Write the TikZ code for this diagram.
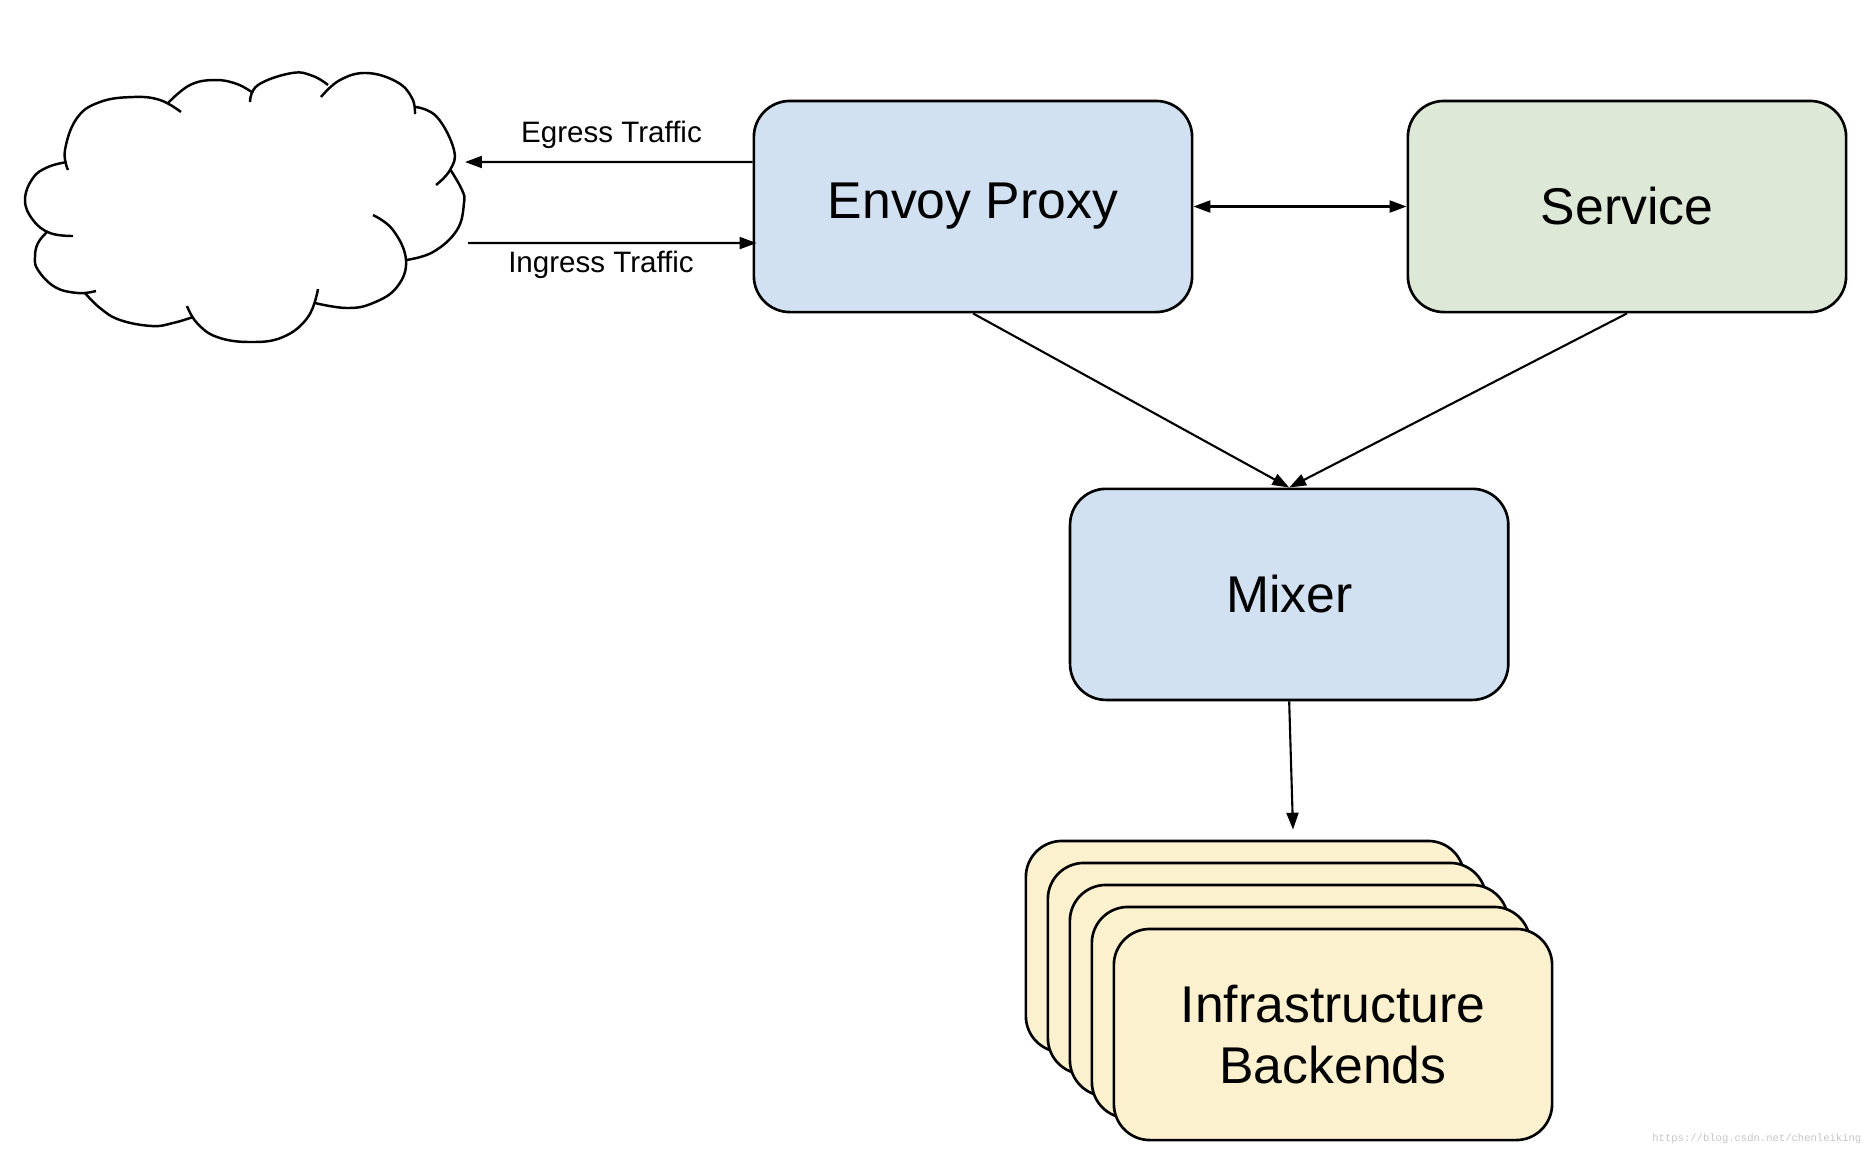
\documentclass[tikz,border=0pt]{standalone}
\usepackage{fontspec}
\setmainfont{Liberation Sans}
\newfontfamily\markfont{Liberation Mono}
\usetikzlibrary{calc,arrows.meta,positioning}
\definecolor{LightBlue}{HTML}{D2E1F1}
\definecolor{LightGreen}{HTML}{DDE8D6}
\definecolor{LightYellow}{HTML}{FCF1CF}
\definecolor{MarkGray}{HTML}{C4C4C4}

\begin{document}
\begin{tikzpicture}[
    x=0.01cm, y=-0.01cm,
    box/.style={draw=black, line width=0.75pt, rounded corners=0.36cm,
        minimum width=4.38cm, minimum height=2.11cm, inner sep=0pt,
        align=center, text=black, font=\fontsize{14.7}{17.2}\selectfont},
    link/.style={-{Triangle[length=4.8pt, width=3.4pt]}, line width=0.6pt},
    tag/.style={font=\fontsize{8.4}{10}\selectfont, inner sep=0pt},
    puff/.style={smooth, tension=0.7, line width=0.7pt},
]
\useasboundingbox (0,0) rectangle (1862,1150);

\node[box, fill=LightBlue] (envoy) at (973,206.5) {Envoy Proxy};
\node[box, fill=LightGreen, right=2.13cm of envoy] (service) {Service};
\node[box, fill=LightBlue, below=1.74cm of envoy, xshift=3.16cm] (mixer) {Mixer};

% stacked backends, back to front
\foreach \i/\off in {1/0, 2/22, 3/44, 4/66}
    \node[box, fill=LightYellow] (backend\i) at (1245+\off,946.5+\off) {};
\node[box, fill=LightYellow, at={(1333,1034.5)}] (backend5) {Infrastructure\\Backends};

% cloud
\draw[puff] plot coordinates {(68,170) (65,150) (77,118) (100,102) (133,97) (160,100) (181,112)};
\draw[puff] plot coordinates {(168,103) (190,85) (215,80) (237,84) (253,93)};
\draw[puff] plot coordinates {(250,102) (258,85) (292,73) (313,76) (328,85)};
\draw[puff] plot coordinates {(321,97) (340,80) (367,73) (397,82) (412,98) (415,114)};
\draw[puff] plot coordinates {(416,107) (437,117) (454,150) (450,170) (436,185)};
\draw[puff] plot coordinates {(450,169) (462,190) (464,203) (457,230) (433,252) (406,260)};
\draw[puff] plot coordinates {(373,215) (393,230) (406,260) (397,287) (373,303) (347,308) (315,303)};
\draw[puff] plot coordinates {(318,289) (308,317) (283,337) (250,342) (217,337) (197,323) (187,306)};
\draw[puff] plot coordinates {(193,317) (173,323) (152,326) (120,320) (100,308) (85,293)};
\draw[puff] plot coordinates {(96,291) (78,293) (55,287) (38,270) (35,257) (38,243) (47,232)};
\draw[puff] plot coordinates {(73,236) (50,233) (33,220) (25,200) (33,178) (48,167) (67,162)};

\coordinate (egress) at (465,162);
\coordinate (ingress) at (468,243);

% traffic
\draw[link] ([yshift=4.45mm]envoy.west) -- (egress);
\draw[link] (ingress) -- ([xshift=0.4mm, yshift=-3.65mm]envoy.west);
\node[tag] (egresstag) at (611.5,135) {Egress Traffic};
\node[tag] (ingresstag) at (601,265) {Ingress Traffic};

\draw[link, {Triangle[length=4.8pt, width=3.4pt]}-{Triangle[length=4.8pt, width=3.4pt]}] (envoy) -- (service);
\draw[link] (envoy.south) -- (mixer.north);
\draw[link] (service.south) -- (mixer.north);
\draw[link] (mixer.south) -- ([xshift=4.8mm, yshift=1mm]backend1.north);

\node[text=MarkGray, font=\markfont\fontsize{3}{4}\selectfont, anchor=east, inner sep=0pt] (mark) at (1862,1139)
    {https://blog.csdn.net/chenleiking};

\end{tikzpicture}
\end{document}
